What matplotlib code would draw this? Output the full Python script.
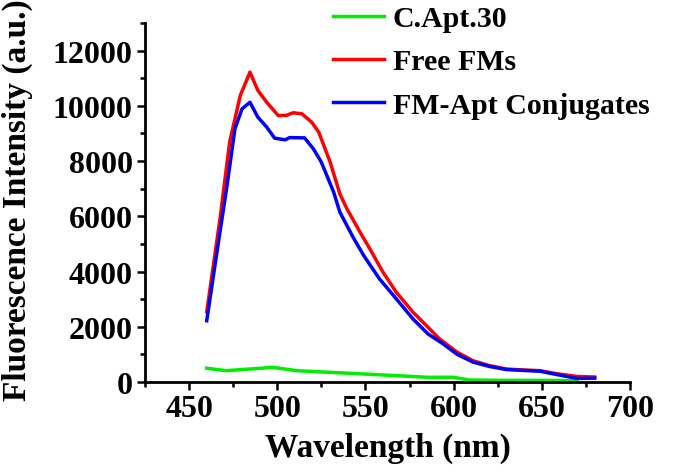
import matplotlib
matplotlib.use("Agg")
import matplotlib.pyplot as plt
from matplotlib.ticker import MultipleLocator

plt.rcParams['font.family'] = ['Liberation Serif', 'DejaVu Serif']
plt.rcParams['font.weight'] = 'bold'

# Free FMs (red)
wl_free = [460, 467.5, 473, 479, 484.5, 489, 494, 500.5, 505, 509, 514, 519.5, 523.5,
           530, 535.5, 539.5, 547, 552.5, 560, 567.5, 577, 585.5, 592, 602, 611, 620.5,
           630, 639.5, 649, 658.5, 670, 680]
int_free = [2540, 5900, 8690, 10370, 11220, 10560, 10130, 9650, 9650, 9750, 9710, 9410, 9050,
            7960, 6810, 6270, 5420, 4820, 3970, 3250, 2525, 1980, 1560, 1080, 770, 590,
            470, 435, 410, 300, 200, 180]

# FM-Apt Conjugates (blue)
wl_conj = [460, 465.5, 471.5, 476, 480, 484.5, 489, 494, 498.5, 504.5, 507, 515.5, 520.5,
           525, 532, 535.5, 543, 549, 558, 567.5, 577, 585.5, 594, 602, 611, 620.5,
           630, 639.5, 649, 658.5, 670, 680]
int_conj = [2220, 4580, 7110, 9170, 9890, 10130, 9590, 9230, 8830, 8770, 8850, 8840, 8440,
            7960, 6870, 6150, 5240, 4580, 3730, 3010, 2280, 1740, 1380, 1000, 720, 560,
            450, 420, 390, 270, 130, 140]

# C.Apt.30 (green)
wl_capt = [460, 471, 484.5, 497.5, 511, 530, 549, 567.5, 585.5, 592, 600, 609, 630, 650, 670]
int_capt = [500, 410, 470, 530, 410, 350, 290, 230, 170, 170, 170, 70, 60, 60, 50]

fig = plt.figure(figsize=(6.85, 4.77), dpi=100)
ax = fig.add_axes([145/685, 1-383/477, 485/685, 359/477])

ax.plot(wl_capt, int_capt, color='#00ee00', lw=2.5, label='C.Apt.30')
ax.plot(wl_free, int_free, color='#ff0000', lw=2.5, label='Free FMs')
ax.plot(wl_conj, int_conj, color='#0000ff', lw=2.5, label='FM-Apt Conjugates')

ax.set_xlim(425, 700)
ax.set_ylim(0, 13000)
ax.xaxis.set_major_locator(MultipleLocator(50))
ax.xaxis.set_minor_locator(MultipleLocator(25))
ax.yaxis.set_major_locator(MultipleLocator(2000))
ax.yaxis.set_minor_locator(MultipleLocator(1000))
ax.set_xticks([450, 500, 550, 600, 650, 700])

for s in ['top', 'right']:
    ax.spines[s].set_visible(False)
for s in ['left', 'bottom']:
    ax.spines[s].set_linewidth(2)
ax.tick_params(which='major', direction='out', length=6, width=1.8, labelsize=23, pad=3)
ax.tick_params(which='minor', direction='out', length=3.5, width=1.8)

ax.set_xlabel('Wavelength (nm)', fontsize=24, fontweight='bold', labelpad=6)
ax.set_ylabel('Fluorescence Intensity (a.u.)', fontsize=24, fontweight='bold')
ax.yaxis.set_label_coords(-0.231, 0.51)

fig.legend(loc='upper left', bbox_to_anchor=(333/685, 1-6/477), frameon=False,
           fontsize=21.5, handlelength=1.7, handletextpad=0.3, labelspacing=0.55,
           borderpad=0, borderaxespad=0)

fig.savefig('out.png', dpi=100)
